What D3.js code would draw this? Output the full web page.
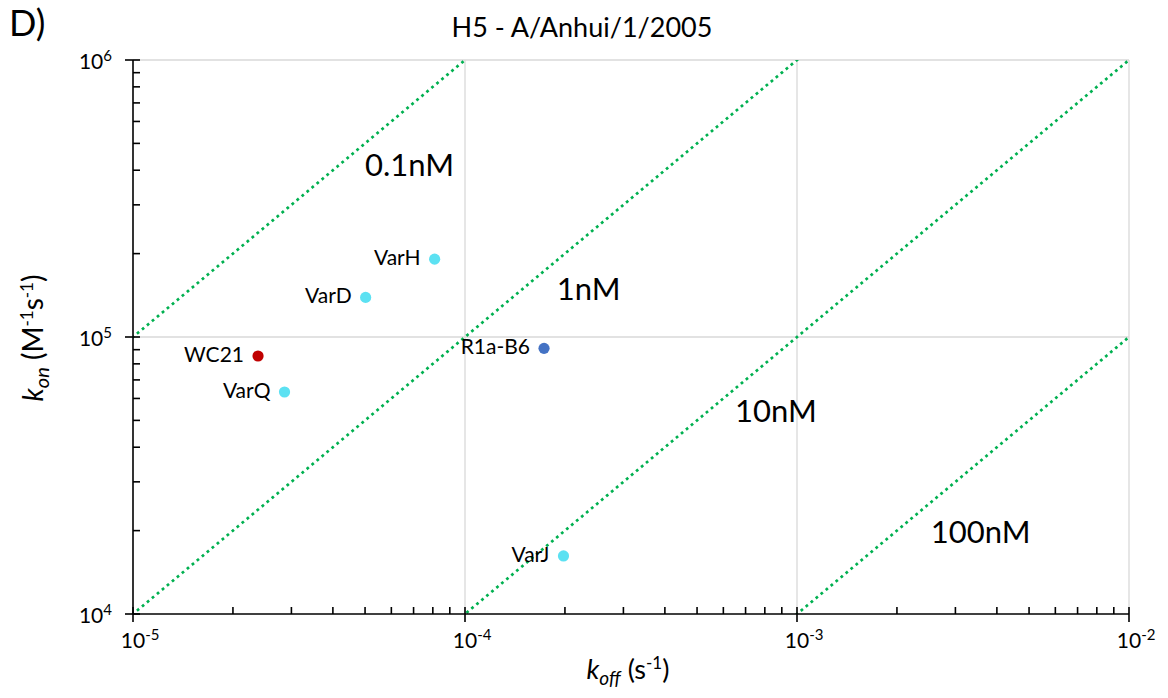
<!DOCTYPE html>
<html>
<head>
<meta charset="utf-8">
<script src="https://cdn.jsdelivr.net/npm/d3@7"></script>
<style>
  html, body { margin: 0; padding: 0; background: #fff; }
  svg { display: block; font-family: Lato, "Open Sans", sans-serif; }
</style>
</head>
<body>
<svg id="chart" width="1168" height="698"></svg>
<script>
// Binding kinetics: off-rate vs on-rate per antibody
const names   = ["VarH", "VarD", "WC21", "VarQ", "R1a-B6", "VarJ"];
const koff    = [8.1e-5, 5.02e-5, 2.38e-5, 2.86e-5, 1.73e-4, 1.98e-4];
const kon     = [1.91e5, 1.39e5, 8.54e4, 6.33e4, 9.1e4, 1.62e4];
const colors  = ["#5ce1f2", "#5ce1f2", "#c00000", "#5ce1f2", "#4472c4", "#5ce1f2"];

// Iso-affinity lines KD = koff / kon (molar) and where their labels sit
const kdValues = [1e-10, 1e-9, 1e-8, 1e-7];
const kdLabels = ["0.1nM", "1nM", "10nM", "100nM"];
const kdLabelKoff = [5.0e-5, 1.89e-4, 6.51e-4, 2.53e-3];
const kdLabelKon  = [3.81e5, 1.36e5, 4.93e4, 1.80e4];

const xDecades = [-5, -4, -3, -2];
const yDecades = [4, 5, 6];

const svg = d3.select("#chart");
const mLeft = 133, mRight = 1129, mTop = 60, mBottom = 614;

const x = d3.scaleLog().domain([1e-5, 1e-2]).range([mLeft, mRight]);
const y = d3.scaleLog().domain([1e4, 1e6]).range([mBottom, mTop]);

// grid lines at decades
const g = svg.append("g");
xDecades.slice(1).forEach(e => {
  g.append("line").attr("x1", x(10 ** e)).attr("x2", x(10 ** e))
    .attr("y1", mTop).attr("y2", mBottom).attr("stroke", "#d9d9d9").attr("stroke-width", 1.3);
});
yDecades.slice(1).forEach(e => {
  g.append("line").attr("x1", mLeft).attr("x2", mRight)
    .attr("y1", y(10 ** e)).attr("y2", y(10 ** e)).attr("stroke", "#d9d9d9").attr("stroke-width", 1.3);
});

// KD lines, clipped to the plot region
svg.append("clipPath").attr("id", "plotclip").append("rect")
  .attr("x", mLeft).attr("y", mTop).attr("width", mRight - mLeft).attr("height", mBottom - mTop);
const kdG = svg.append("g").attr("clip-path", "url(#plotclip)");
kdValues.forEach(kd => {
  kdG.append("line")
    .attr("x1", x(1e-5)).attr("y1", y(1e-5 / kd))
    .attr("x2", x(1e-2)).attr("y2", y(1e-2 / kd))
    .attr("stroke", "#00b050").attr("stroke-width", 2.7)
    .attr("stroke-linecap", "square").attr("stroke-dasharray", "0.1 6.4");
});
kdLabels.forEach((t, i) => {
  svg.append("text").attr("x", x(kdLabelKoff[i])).attr("y", y(kdLabelKon[i]))
    .attr("font-size", 31).attr("fill", "#000").text(t);
});

// Axes: major ticks cross the axis line, minor ticks point inward
const ax = svg.append("g").attr("stroke", "#000");
ax.append("line").attr("x1", mLeft).attr("x2", mRight).attr("y1", mBottom).attr("y2", mBottom).attr("stroke-width", 1.6);
ax.append("line").attr("x1", mLeft).attr("x2", mLeft).attr("y1", mTop).attr("y2", mBottom).attr("stroke-width", 1.6);

const isMajor = v => Math.abs(Math.log10(v) - Math.round(Math.log10(v))) < 1e-6;
x.ticks().forEach(v => {
  ax.append("line").attr("x1", x(v)).attr("x2", x(v))
    .attr("y1", isMajor(v) ? mBottom + 8 : mBottom).attr("y2", mBottom - 7).attr("stroke-width", 1.6);
});
y.ticks().forEach(v => {
  ax.append("line").attr("y1", y(v)).attr("y2", y(v))
    .attr("x1", isMajor(v) ? mLeft - 8 : mLeft).attr("x2", mLeft + 7).attr("stroke-width", 1.6);
});

// tick labels as 10^n; the "10" is centred under the tick
const baseW = 24.4;
xDecades.forEach(e => {
  const t = svg.append("text").attr("x", x(10 ** e) - baseW / 2).attr("y", mBottom + 34)
    .attr("font-size", 21);
  t.append("tspan").text("10");
  t.append("tspan").attr("font-size", 15).attr("dy", -8).text(e);
});
yDecades.forEach(e => {
  const t = svg.append("text").attr("x", mLeft - 21).attr("y", y(10 ** e) + 9)
    .attr("text-anchor", "end").attr("font-size", 21);
  t.append("tspan").text("10");
  t.append("tspan").attr("font-size", 15).attr("dy", -8).text(e);
});

// points and labels
names.forEach((n, i) => {
  svg.append("circle").attr("cx", x(koff[i])).attr("cy", y(kon[i])).attr("r", 5.6)
    .attr("fill", colors[i]);
  svg.append("text").attr("x", x(koff[i]) - 14).attr("y", y(kon[i]) + 6)
    .attr("text-anchor", "end").attr("font-size", 21).text(n);
});

// titles
svg.append("text").attr("x", 9).attr("y", 36).attr("font-size", 36).text("D)");
svg.append("text").attr("x", 582).attr("y", 37).attr("text-anchor", "middle")
  .attr("font-size", 27).text("H5 - A/Anhui/1/2005");

const xl = svg.append("text").attr("x", 628).attr("y", 679).attr("text-anchor", "middle").attr("font-size", 27);
xl.append("tspan").attr("font-style", "italic").text("k");
xl.append("tspan").attr("font-style", "italic").attr("font-size", 19).attr("dy", 6).text("off");
xl.append("tspan").attr("dy", -6).text(" (s");
xl.append("tspan").attr("font-size", 17).attr("dy", -10).text("-1");
xl.append("tspan").attr("dy", 10).text(")");

const yl = svg.append("text").attr("transform", "translate(43,338) rotate(-90)")
  .attr("text-anchor", "middle").attr("font-size", 28);
yl.append("tspan").attr("font-style", "italic").text("k");
yl.append("tspan").attr("font-style", "italic").attr("font-size", 20).attr("dy", 6).text("on");
yl.append("tspan").attr("dy", -6).text(" (M");
yl.append("tspan").attr("font-size", 17).attr("dy", -10).text("-1");
yl.append("tspan").attr("dy", 10).text("s");
yl.append("tspan").attr("font-size", 17).attr("dy", -10).text("-1");
yl.append("tspan").attr("dy", 10).text(")");
</script>
</body>
</html>
